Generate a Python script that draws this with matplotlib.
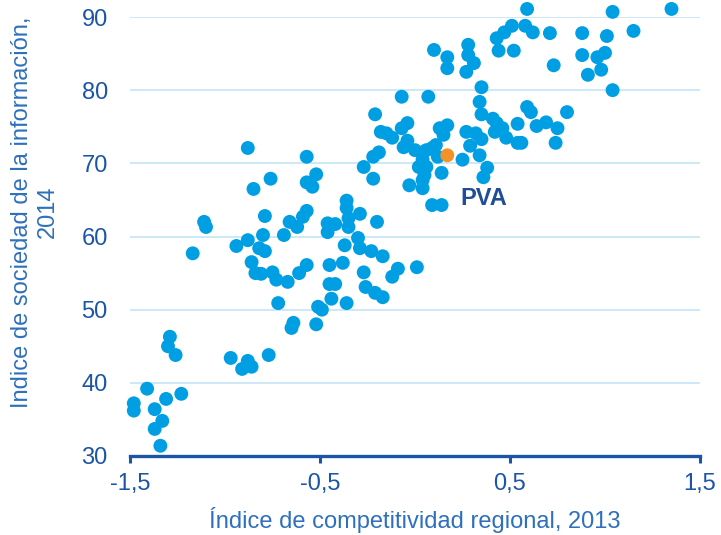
import matplotlib
matplotlib.use("Agg")
import matplotlib.pyplot as plt

# Regiones: índice de competitividad regional 2013 (x) e índice de sociedad de la información 2014 (y)
comp_x = [
    -1.29, -1.30, -1.26, -0.97, -0.88, -0.91, -0.86, -0.77, -1.41, -1.48,
    -1.48, -1.31, -1.23, -1.37, -1.33, -1.37, -1.34,
    -1.17, -0.94, -0.88, -0.80, -0.69, -0.82, -0.79, -0.86, -0.84, -0.81,
    -0.75, -0.73, -0.67, -0.61, -0.57, -0.72, -0.65, -0.64, -0.52, -0.51,
    -0.49, -0.44, -0.45, -0.42, -0.45, -0.38, -0.36, -0.37, -0.46, -0.27,
    -0.26, -0.21, -0.17, -0.12, -0.09, 0.01, -0.29, -0.23, -0.17, -0.30,
    -0.88, -0.57, -0.52, -0.57, -0.54, -0.76, -0.85, -0.79, -0.66, -0.62,
    -0.59, -0.57, -1.11, -1.10, -0.46, -0.42, -0.36, -0.36, -0.29, -0.35,
    -0.35, -0.20,
    -0.27, -0.22, -0.21, -0.07, 0.07, -0.18, -0.15, -0.07, -0.04, -0.12,
    -0.04, -0.06, -0.19, -0.22, 0.00, 0.04, 0.06, 0.09, 0.11, 0.04,
    0.02, 0.06, 0.05, 0.04, -0.03, 0.04, 0.14, 0.12, 0.09, 0.14,
    0.13, 0.17, 0.15, 0.25, 0.27, 0.32, 0.35, 0.29, 0.34, 0.38, 0.36,
    0.10, 0.17, 0.17, 0.28, 0.28, 0.31, 0.27, 0.35, 0.34, 0.35,
    0.41, 0.43, 0.46, 0.42, 0.48, 0.54, 0.54, 0.56, 0.59, 0.61,
    0.64, 0.69, 0.75, 0.74, 0.80, 0.43, 0.47, 0.51, 0.58, 0.62,
    0.71, 0.88, 0.59, 0.44, 0.52, 0.73, 0.88, 0.91, 1.04, 1.35,
    1.01, 1.15, 0.96, 1.00, 0.98, 1.04,
]
info_y = [
    46.3, 45.0, 43.8, 43.4, 43.0, 41.9, 42.2, 43.8, 39.2, 37.2,
    36.2, 37.8, 38.5, 36.4, 34.8, 33.7, 31.4,
    57.7, 58.7, 59.5, 60.2, 60.2, 58.4, 58.0, 56.5, 55.0, 54.9,
    55.1, 54.1, 53.8, 55.0, 56.1, 50.9, 47.5, 48.2, 48.0, 50.4,
    50.0, 51.5, 53.5, 53.5, 56.1, 56.4, 50.9, 58.8, 60.6, 55.1,
    53.1, 52.3, 51.7, 54.5, 55.6, 55.8, 58.4, 58.0, 57.3, 59.8,
    72.1, 70.9, 68.5, 67.4, 66.8, 67.9, 66.5, 62.8, 62.0, 61.3,
    62.7, 63.5, 62.0, 61.3, 61.8, 61.7, 64.9, 63.9, 63.1, 62.5,
    61.3, 62.0,
    69.5, 67.9, 76.7, 79.1, 79.1, 74.3, 74.1, 74.8, 75.5, 73.5,
    73.1, 72.2, 71.5, 70.9, 71.8, 71.5, 71.8, 72.1, 72.5, 70.5,
    69.5, 69.5, 68.4, 67.7, 67.0, 66.6, 68.7, 70.9, 64.3, 64.3,
    74.8, 75.2, 73.9, 70.5, 74.3, 74.1, 73.3, 72.4, 71.1, 69.4, 68.1,
    85.5, 84.5, 83.0, 86.2, 84.8, 83.7, 82.5, 80.4, 78.4, 76.7,
    76.1, 75.5, 74.8, 74.3, 73.5, 75.4, 72.8, 72.8, 77.7, 77.0,
    75.1, 75.6, 74.8, 72.8, 77.0, 87.1, 87.9, 88.8, 88.8, 87.9,
    87.8, 87.8, 91.1, 85.4, 85.4, 83.4, 84.8, 82.1, 90.7, 91.1,
    87.4, 88.1, 84.5, 85.1, 82.8, 80.0,
]

# País Vasco
pva_x = [0.17]
pva_y = [71.1]
pva_label = "PVA"

x_ticks = [-1.5, -0.5, 0.5, 1.5]
x_ticklabels = ["-1,5", "-0,5", "0,5", "1,5"]
y_ticks = [30, 40, 50, 60, 70, 80, 90]

tick_color = "#1B55A6"
label_color = "#2E70BC"

plt.rcParams["font.family"] = ["Liberation Sans", "DejaVu Sans"]

fig = plt.figure(figsize=(7.21, 5.35), dpi=100)
ax = fig.add_axes([130 / 721, 1 - 456 / 535, 570 / 721, 439 / 535])

ax.scatter(comp_x, info_y, s=100, color="#009FE3", edgecolors="none",
           zorder=3, clip_on=False)
ax.scatter(pva_x, pva_y, s=100, color="#F4922A", edgecolors="none",
           zorder=4, clip_on=False)
ax.text(pva_x[0] + 0.07, pva_y[0] - 5.9, pva_label, fontsize=17,
        fontweight="bold", color="#1F4E96", ha="left", va="center")

ax.set_xlim(-1.5, 1.5)
ax.set_ylim(30, 90)
ax.set_xticks(x_ticks)
ax.set_xticklabels(x_ticklabels)
ax.set_yticks(y_ticks)

for yv in y_ticks[1:]:
    ax.axhline(yv, color="#C3E5F7", linewidth=1.2, zorder=1)

for side in ["top", "right", "left"]:
    ax.spines[side].set_visible(False)
ax.spines["bottom"].set_color(tick_color)
ax.spines["bottom"].set_linewidth(2.4)
ax.spines["bottom"].set_zorder(5)

ax.tick_params(axis="x", direction="out", length=5, width=2.2,
               color=tick_color, labelcolor=tick_color, labelsize=17, pad=7)
ax.tick_params(axis="y", length=0, labelcolor=tick_color, labelsize=17, pad=16)

fig.text(415 / 721, 1 - 520 / 535, "Índice de competitividad regional, 2013",
         fontsize=17, color=label_color, ha="center", va="center")
fig.text(35 / 721, 1 - 212 / 535, "Indice de sociedad de la información,\n2014",
         fontsize=17, color=label_color, ha="center", va="center",
         rotation=90, multialignment="center")

fig.savefig("out.png", dpi=100)
